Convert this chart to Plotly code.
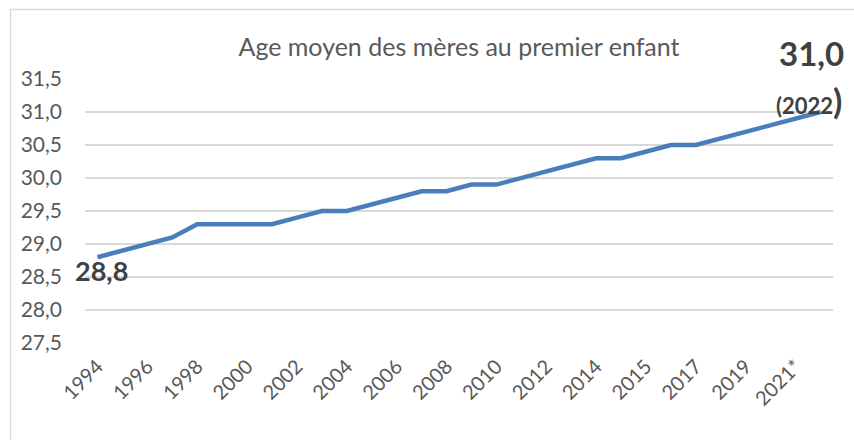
import plotly.graph_objects as go

# ---- data ----
categories = ["1994", "1995", "1996", "1997", "1998", "1999", "2000", "2001",
              "2002", "2003", "2004", "2005", "2006", "2007", "2008", "2009",
              "2010", "2011", "2012", "2013", "2014", "2014", "2015", "2016",
              "2017", "2018", "2019", "2020", "2021*", "2022"]
ages = [28.8, 28.9, 29.0, 29.1, 29.3, 29.3, 29.3, 29.3, 29.4, 29.5,
        29.5, 29.6, 29.7, 29.8, 29.8, 29.9, 29.9, 30.0, 30.1, 30.2,
        30.3, 30.3, 30.4, 30.5, 30.5, 30.6, 30.7, 30.8, 30.9, 31.0]
tick_idx = list(range(0, len(categories), 2))
tick_labels = [categories[i] for i in tick_idx]
y_ticks = [27.5, 28.0, 28.5, 29.0, 29.5, 30.0, 30.5, 31.0, 31.5]
y_tick_labels = [f"{v:.1f}".replace(".", ",") for v in y_ticks]
title_text = "Age moyen des mères au premier enfant"
first_label = "28,8"
last_label = "31,0"
last_year = "(2022"

W, H = 854, 440
ML, MR, MT, MB = 85, 21, 79, 97
PW, PH = W - ML - MR, H - MT - MB

FONT = "Lato"
GRAY = "#595959"
DARK = "#404040"

x_idx = list(range(len(categories)))

fig = go.Figure()
fig.add_trace(go.Scatter(
    x=x_idx, y=ages, mode="lines",
    line=dict(color="#4a7ebb", width=4.5),
    hoverinfo="skip", showlegend=False, cliponaxis=False,
))

def px_to_paper_x(px):
    return (px - ML) / PW

def px_to_paper_y(py):
    return (H - MB - py) / PH

fig.update_layout(
    width=W, height=H,
    margin=dict(l=ML, r=MR, t=MT, b=MB, pad=0, autoexpand=False),
    paper_bgcolor="white", plot_bgcolor="white",
    font=dict(family=FONT, color=GRAY),
    title=dict(text=title_text, x=0.5, xref="paper", xanchor="center",
               y=1 - 47 / H, yanchor="middle", automargin=False,
               font=dict(family=FONT, size=25, color=GRAY)),
    xaxis=dict(
        range=[-0.5, len(categories) - 0.5], automargin=False,
        tickmode="array", tickvals=tick_idx, ticktext=tick_labels,
        tickangle=-45, tickfont=dict(family=FONT, size=20, color=GRAY),
        showgrid=False, zeroline=False, showline=False, ticks="",
        ticklabelstandoff=7,
    ),
    yaxis=dict(
        range=[27.5, 31.5], automargin=False,
        tickmode="array", tickvals=y_ticks, ticktext=y_tick_labels,
        tickfont=dict(family=FONT, size=21, color=GRAY),
        showgrid=True, gridcolor="#d9d9d9", gridwidth=1.3,
        zeroline=False, showline=False, ticks="",
        ticklabelstandoff=22,
    ),
    shapes=[dict(
        type="path", xref="paper", yref="paper",
        path=(f"M {px_to_paper_x(10.5)} {px_to_paper_y(H + 5)} "
              f"L {px_to_paper_x(10.5)} {px_to_paper_y(9.5)} "
              f"L {px_to_paper_x(W + 5)} {px_to_paper_y(9.5)}"),
        line=dict(color="#d9d9d9", width=1.3),
    )],
)

fig.add_annotation(
    x=x_idx[0], y=ages[0], text=f"<b>{first_label}</b>", showarrow=False,
    xanchor="center", yanchor="middle", xshift=4, yshift=-13,
    font=dict(family=FONT, size=27, color=DARK),
)
fig.add_annotation(
    x=x_idx[-1], y=ages[-1], text=f"<b>{last_label}</b>", showarrow=False,
    xanchor="center", yanchor="middle", xshift=-9, yshift=59,
    font=dict(family=FONT, size=33, color=DARK),
)
fig.add_annotation(
    x=x_idx[-1], y=ages[-1],
    text=f"<b>{last_year}<span style='font-size:34px'>)</span></b>",
    showarrow=False,
    xanchor="center", yanchor="middle", xshift=-12, yshift=12,
    font=dict(family=FONT, size=22, color=DARK),
)

fig.write_html(
    "out.html",
    config={"displayModeBar": False, "staticPlot": True},
    post_script="document.body.style.margin='0';document.body.style.overflow='hidden';",
)
